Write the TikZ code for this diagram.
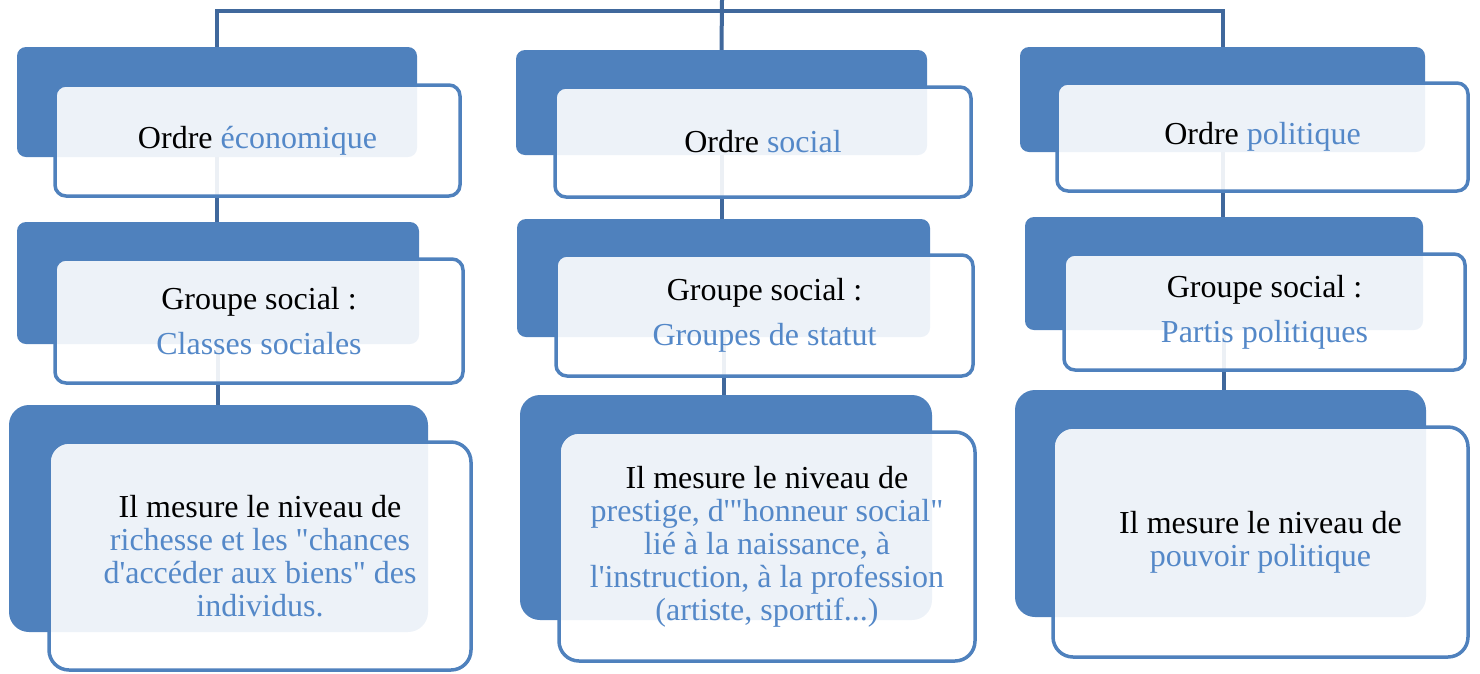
\documentclass[tikz,border=0pt]{standalone}
\usepackage{fontspec}
\setmainfont{Liberation Serif}[Ligatures=TeXOff]
\definecolor{boxblue}{RGB}{79,129,189}
\definecolor{connblue}{RGB}{64,104,156}
\definecolor{txtblue}{RGB}{84,136,200}
\begin{document}
\begin{tikzpicture}[x=1pt,y=-1pt,
  back/.style={fill=boxblue, draw=none, rounded corners=9pt, inner sep=0pt},
  backbig/.style={back, rounded corners=20pt},
  front/.style={fill=white, fill opacity=0.9, text opacity=1, draw=boxblue, draw opacity=1,
     line width=3.5pt, rounded corners=11pt, inner sep=0pt, align=center,
     font=\fontsize{32}{33}\selectfont},
  frontbig/.style={front, rounded corners=20pt},
  conn/.style={draw=connblue, line width=4pt}]
\useasboundingbox (0,0) rectangle (1480,673);
% back boxes
\node[back, minimum width=400pt, minimum height=110pt] (d11) at (217,102) {};
\node[back, minimum width=411pt, minimum height=105pt] (d12) at (721.5,102.5) {};
\node[back, minimum width=405pt, minimum height=105pt] (d13) at (1222.5,99.5) {};
\node[back, minimum width=402pt, minimum height=122pt] (d21) at (218,283) {};
\node[back, minimum width=413pt, minimum height=118pt] (d22) at (723.5,278) {};
\node[back, minimum width=398pt, minimum height=113pt] (d23) at (1224,273.5) {};
\node[backbig, minimum width=419pt, minimum height=227pt] (d31) at (218.5,518.5) {};
\node[backbig, minimum width=412pt, minimum height=225pt] (d32) at (726,507.5) {};
\node[backbig, minimum width=411pt, minimum height=227pt] (d33) at (1220.5,503.5) {};
% connectors
\coordinate (top) at (722,0);
\coordinate (join) at (722,11);
\draw[conn] (top) -- (d12.north);
\draw[conn] (join) -| (d11.north);
\draw[conn] (join) -| (d13.north);
\draw[conn] (d11.south) -- (d11.south |- d21.north);
\draw[conn] (d12.south) -- (d12.south |- d22.north);
\draw[conn] (d13.south) -- (d13.south |- d23.north);
\draw[conn] (d21.south) -- (d21.south |- d31.north);
\draw[conn] (d22.south) -- (d22.south |- d32.north);
\draw[conn] (d23.south) -- (d23.south |- d33.north);
% front boxes
\node[front, minimum width=405pt, minimum height=111pt] (f11) at (257.5,140.5)
  {Ordre {\color{txtblue}économique}};
\node[front, minimum width=416pt, minimum height=110pt] (f12) at (763,142)
  {Ordre {\color{txtblue}social}};
\node[front, minimum width=411pt, minimum height=108pt] (f13) at (1262.5,137)
  {Ordre {\color{txtblue}politique}};
\node[front, minimum width=408pt, minimum height=124pt] (f21) at (259,321)
  {Groupe social :\\[12pt]{\color{txtblue}Classes sociales}};
\node[front, minimum width=417pt, minimum height=121pt] (f22) at (764.5,315.5)
  {Groupe social :\\[12pt]{\color{txtblue}Groupes de statut}};
\node[front, minimum width=401pt, minimum height=116pt] (f23) at (1264.5,312)
  {Groupe social :\\[12pt]{\color{txtblue}Partis politiques}};
\node[frontbig, minimum width=422pt, minimum height=228pt] (f31) at (260,556)
  {Il mesure le niveau de\\{\color{txtblue}richesse et les "chances}\\{\color{txtblue}d'accéder aux biens" des}\\{\color{txtblue}individus.}};
\node[frontbig, minimum width=416pt, minimum height=229pt] (f32) at (767,546.5)
  {Il mesure le niveau de\\{\color{txtblue}prestige, d'"honneur social"}\\{\color{txtblue}lié à la naissance, à}\\{\color{txtblue}l'instruction, à la profession}\\{\color{txtblue}(artiste, sportif...)}};
\node[frontbig, minimum width=415pt, minimum height=230pt] (f33) at (1260.5,542)
  {Il mesure le niveau de\\{\color{txtblue}pouvoir politique}};
\end{tikzpicture}
\end{document}
